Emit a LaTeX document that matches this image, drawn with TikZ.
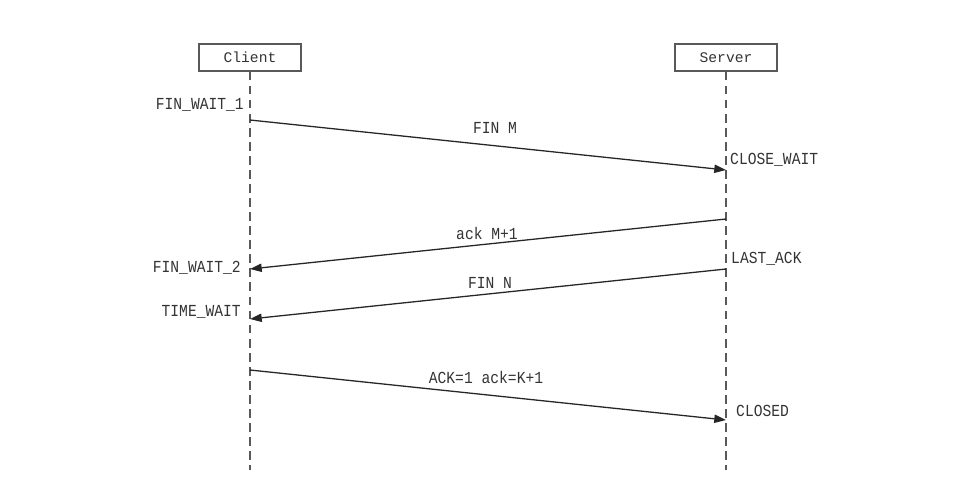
\documentclass[tikz,border=0pt]{standalone}
\usepackage{fontspec}
\setmonofont{Liberation Mono}
\usetikzlibrary{arrows.meta}
\begin{document}
\begin{tikzpicture}[x=0.03cm,y=-0.03cm,
  party/.style={draw=black!65,line width=1pt,minimum width=3.06cm,minimum height=0.81cm,inner sep=0pt,text=black!80,font=\ttfamily\fontsize{12.5}{14}\selectfont},
  life/.style={draw=black!65,dash pattern=on 7.5pt off 4.5pt,line width=1pt},
  msg/.style={draw=black!85,-{Triangle[length=10pt,width=7pt]},line width=1.1pt},
  lbl/.style={inner sep=0pt,text=black!80,yscale=1.15,font=\ttfamily\fontsize{12.5}{14}\selectfont}]
\useasboundingbox (0,0) rectangle (965,491);

\node[party] (client) at (250,57.5) {Client};
\node[party] (server) at (726,57.5) {Server};
\coordinate (cend) at (250,470);
\coordinate (send) at (726,470);
\draw[life] (client) -- (cend);
\draw[life] (server) -- (send);

\coordinate (c1) at (250,120);
\coordinate (s1) at (726,170);
\coordinate (s2) at (726,219);
\coordinate (c2) at (250,269);
\coordinate (s3) at (726,269);
\coordinate (c3) at (250,319);
\coordinate (c4) at (250,370);
\coordinate (s4) at (726,420);

\draw[msg] (c1) -- (s1);
\draw[msg] (s2) -- (c2);
\draw[msg] (s3) -- (c3);
\draw[msg] (c4) -- (s4);

\node[lbl] (finm) at (495,128) {FIN M};
\node[lbl] (ackm) at (487,233) {ack M+1};
\node[lbl] (finn) at (490,283) {FIN N};
\node[lbl] (ackk) at (486,377) {ACK=1 ack=K+1};

\node[lbl,anchor=east] (fw1) at (244,105) {FIN\_WAIT\_1};
\node[lbl,anchor=west] (cw) at (730,160) {CLOSE\_WAIT};
\node[lbl,anchor=west] (la) at (731,259) {LAST\_ACK};
\node[lbl,anchor=east] (fw2) at (241,268) {FIN\_WAIT\_2};
\node[lbl,anchor=east] (tw) at (241,312) {TIME\_WAIT};
\node[lbl,anchor=west] (cl) at (736,411) {CLOSED};

\end{tikzpicture}
\end{document}
